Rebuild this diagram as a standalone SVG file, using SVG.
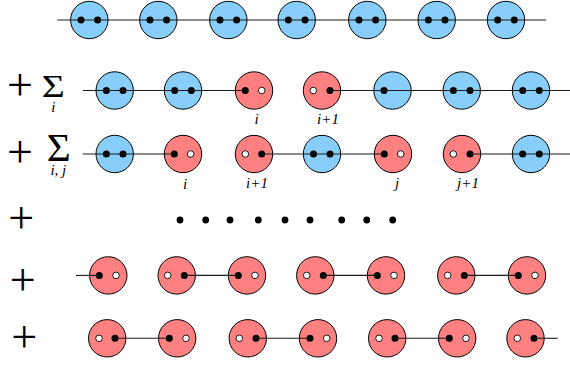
<svg xmlns="http://www.w3.org/2000/svg" width="570" height="369" viewBox="0 0 570 369">
<style>
.b{fill:#87cefa;stroke:#000;stroke-width:1}
.r{fill:#ff8080;stroke:#000;stroke-width:1}
.d{fill:#000}
.w{fill:#fff;stroke:#000;stroke-width:0.9}
.c line{stroke:#1a1a1a;stroke-width:1.1}
text{font-family:'Liberation Serif','Times New Roman','DejaVu Serif',serif;fill:#000}
.lb{font-style:italic;font-size:15px}
.pl{font-size:46px}
</style>
<rect width="570" height="369" fill="#fff"/>
<g id="ops">
<text class="pl" x="20" y="100" text-anchor="middle">+</text>
<text x="41.7" y="96.5" font-size="32" textLength="23" lengthAdjust="spacingAndGlyphs">Σ</text>
<text class="lb" x="53.3" y="112" text-anchor="middle">i</text>
<text class="pl" x="20" y="167" text-anchor="middle">+</text>
<text x="46.7" y="161" font-size="39" textLength="24" lengthAdjust="spacingAndGlyphs">Σ</text>
<text class="lb" x="58.3" y="175" text-anchor="middle">i, j</text>
<text class="pl" x="21.3" y="233" text-anchor="middle">+</text>
<text class="pl" x="22.7" y="295" text-anchor="middle">+</text>
<text class="pl" x="24.3" y="352" text-anchor="middle">+</text>
</g>
<g id="row1">
<g id="n1_1"><circle class="b" cx="89.3" cy="20" r="18.7"/><circle class="d" cx="81" cy="20" r="3.5"/><circle class="d" cx="97.6" cy="20" r="3.5"/></g>
<g id="n1_2"><circle class="b" cx="158.3" cy="20" r="18.7"/><circle class="d" cx="150" cy="20" r="3.5"/><circle class="d" cx="166.6" cy="20" r="3.5"/></g>
<g id="n1_3"><circle class="b" cx="228.3" cy="20" r="18.7"/><circle class="d" cx="220" cy="20" r="3.5"/><circle class="d" cx="236.6" cy="20" r="3.5"/></g>
<g id="n1_4"><circle class="b" cx="296.7" cy="20" r="18.7"/><circle class="d" cx="288.4" cy="20" r="3.5"/><circle class="d" cx="305" cy="20" r="3.5"/></g>
<g id="n1_5"><circle class="b" cx="367.3" cy="20" r="18.7"/><circle class="d" cx="359" cy="20" r="3.5"/><circle class="d" cx="375.6" cy="20" r="3.5"/></g>
<g id="n1_6"><circle class="b" cx="436.7" cy="20" r="18.7"/><circle class="d" cx="428.4" cy="20" r="3.5"/><circle class="d" cx="445" cy="20" r="3.5"/></g>
<g id="n1_7"><circle class="b" cx="506" cy="20" r="18.7"/><circle class="d" cx="497.7" cy="20" r="3.5"/><circle class="d" cx="514.3" cy="20" r="3.5"/></g>
</g>
<g id="row2">
<g id="n2_1"><circle class="b" cx="114.7" cy="90.5" r="18.7"/><circle class="d" cx="106.4" cy="90.5" r="3.5"/><circle class="d" cx="123" cy="90.5" r="3.5"/></g>
<g id="n2_2"><circle class="b" cx="183" cy="90.5" r="18.7"/><circle class="d" cx="174.7" cy="90.5" r="3.5"/><circle class="d" cx="191.3" cy="90.5" r="3.5"/></g>
<g id="n2_3"><circle class="r" cx="254" cy="90.5" r="18.7"/><circle class="d" cx="245.3" cy="90.5" r="3.5"/><circle class="w" cx="261.7" cy="90.5" r="3.3"/></g>
<g id="n2_4"><circle class="r" cx="322" cy="90.5" r="18.7"/><circle class="w" cx="313.3" cy="90.5" r="3.3"/><circle class="d" cx="330" cy="90.5" r="3.5"/></g>
<g id="n2_5"><circle class="b" cx="392.5" cy="90.5" r="18.7"/><circle class="d" cx="384" cy="90.5" r="3.5"/></g>
<g id="n2_6"><circle class="b" cx="461.7" cy="90.5" r="18.7"/><circle class="d" cx="453.4" cy="90.5" r="3.5"/><circle class="d" cx="470" cy="90.5" r="3.5"/></g>
<g id="n2_7"><circle class="b" cx="531" cy="90.5" r="18.7"/><circle class="d" cx="522.7" cy="90.5" r="3.5"/><circle class="d" cx="539.3" cy="90.5" r="3.5"/></g>
<text class="lb" x="256.7" y="124" text-anchor="middle">i</text>
<text class="lb" x="328" y="124" text-anchor="middle">i+1</text>
</g>
<g id="row3">
<g id="n3_1"><circle class="b" cx="114.7" cy="154" r="18.7"/><circle class="d" cx="106.4" cy="154" r="3.5"/><circle class="d" cx="123" cy="154" r="3.5"/></g>
<g id="n3_2"><circle class="r" cx="183" cy="154" r="18.7"/><circle class="d" cx="174.3" cy="154" r="3.5"/><circle class="w" cx="190.7" cy="154" r="3.3"/></g>
<g id="n3_3"><circle class="r" cx="254" cy="154" r="18.7"/><circle class="w" cx="245.3" cy="154" r="3.3"/><circle class="d" cx="261.7" cy="154" r="3.5"/></g>
<g id="n3_4"><circle class="b" cx="322" cy="154" r="18.7"/><circle class="d" cx="313.5" cy="154" r="3.5"/><circle class="d" cx="330" cy="154" r="3.5"/></g>
<g id="n3_5"><circle class="r" cx="393" cy="154" r="18.7"/><circle class="d" cx="384.3" cy="154" r="3.5"/><circle class="w" cx="400.7" cy="154" r="3.3"/></g>
<g id="n3_6"><circle class="r" cx="462" cy="154" r="18.7"/><circle class="w" cx="453.3" cy="154" r="3.3"/><circle class="d" cx="470" cy="154" r="3.5"/></g>
<g id="n3_7"><circle class="b" cx="531" cy="154" r="18.7"/><circle class="d" cx="522.7" cy="154" r="3.5"/><circle class="d" cx="539.3" cy="154" r="3.5"/></g>
<text class="lb" x="185" y="189" text-anchor="middle">i</text>
<text class="lb" x="257" y="188" text-anchor="middle">i+1</text>
<text class="lb" x="397" y="188" text-anchor="middle">j</text>
<text class="lb" x="468" y="188" text-anchor="middle">j+1</text>
</g>
<g id="row4">
<circle class="d" cx="180" cy="220" r="3.4"/><circle class="d" cx="205.7" cy="220" r="3.4"/><circle class="d" cx="230" cy="220" r="3.4"/>
<circle class="d" cx="258.3" cy="220" r="3.4"/><circle class="d" cx="285" cy="220" r="3.4"/><circle class="d" cx="310" cy="220" r="3.4"/>
<circle class="d" cx="341.7" cy="220" r="3.4"/><circle class="d" cx="366.7" cy="220" r="3.4"/><circle class="d" cx="392.7" cy="220" r="3.4"/>
</g>
<g id="row5">
<g id="n5_1"><circle class="r" cx="108.3" cy="275.4" r="18.7"/><circle class="d" cx="99.3" cy="275.4" r="3.5"/><circle class="w" cx="116" cy="275.4" r="3.3"/></g>
<g id="n5_2"><circle class="r" cx="176.7" cy="275.4" r="18.7"/><circle class="w" cx="167.7" cy="275.4" r="3.3"/><circle class="d" cx="184.3" cy="275.4" r="3.5"/></g>
<g id="n5_3"><circle class="r" cx="247" cy="275.4" r="18.7"/><circle class="d" cx="238.3" cy="275.4" r="3.5"/><circle class="w" cx="255" cy="275.4" r="3.3"/></g>
<g id="n5_4"><circle class="r" cx="315.3" cy="275.4" r="18.7"/><circle class="w" cx="306.7" cy="275.4" r="3.3"/><circle class="d" cx="323.3" cy="275.4" r="3.5"/></g>
<g id="n5_5"><circle class="r" cx="386" cy="275.4" r="18.7"/><circle class="d" cx="377.3" cy="275.4" r="3.5"/><circle class="w" cx="394" cy="275.4" r="3.3"/></g>
<g id="n5_6"><circle class="r" cx="456.3" cy="275.4" r="18.7"/><circle class="w" cx="447.7" cy="275.4" r="3.3"/><circle class="d" cx="464.3" cy="275.4" r="3.5"/></g>
<g id="n5_7"><circle class="r" cx="527" cy="275.4" r="18.7"/><circle class="d" cx="518.3" cy="275.4" r="3.5"/><circle class="w" cx="535" cy="275.4" r="3.3"/></g>
</g>
<g id="row6">
<g id="n6_1"><circle class="r" cx="107.2" cy="338.3" r="18.7"/><circle class="w" cx="99" cy="338.3" r="3.3"/><circle class="d" cx="115" cy="338.3" r="3.5"/></g>
<g id="n6_2"><circle class="r" cx="177.2" cy="338.3" r="18.7"/><circle class="d" cx="169.3" cy="338.3" r="3.5"/><circle class="w" cx="186" cy="338.3" r="3.3"/></g>
<g id="n6_3"><circle class="r" cx="247.8" cy="338.3" r="18.7"/><circle class="w" cx="239.3" cy="338.3" r="3.3"/><circle class="d" cx="256" cy="338.3" r="3.5"/></g>
<g id="n6_4"><circle class="r" cx="318" cy="338.3" r="18.7"/><circle class="d" cx="310" cy="338.3" r="3.5"/><circle class="w" cx="326.7" cy="338.3" r="3.3"/></g>
<g id="n6_5"><circle class="r" cx="387.2" cy="338.3" r="18.7"/><circle class="w" cx="379" cy="338.3" r="3.3"/><circle class="d" cx="395" cy="338.3" r="3.5"/></g>
<g id="n6_6"><circle class="r" cx="457.2" cy="338.3" r="18.7"/><circle class="d" cx="449.3" cy="338.3" r="3.5"/><circle class="w" cx="466" cy="338.3" r="3.3"/></g>
<g id="n6_7"><circle class="r" cx="525.5" cy="338.3" r="18.7"/><circle class="w" cx="517.3" cy="338.3" r="3.3"/><circle class="d" cx="534" cy="338.3" r="3.5"/></g>
</g>
<g id="connectors" class="c">
<line x1="57.3" y1="20" x2="546" y2="20"/>
<line x1="82.7" y1="90.5" x2="245.3" y2="90.5"/>
<line x1="330" y1="90.5" x2="570" y2="90.5"/>
<line x1="82.7" y1="154" x2="174.3" y2="154"/>
<line x1="261.7" y1="154" x2="384.3" y2="154"/>
<line x1="470" y1="154" x2="570" y2="154"/>
<line x1="76" y1="275.4" x2="99.3" y2="275.4"/>
<line x1="184.3" y1="275.4" x2="238.3" y2="275.4"/>
<line x1="323.3" y1="275.4" x2="377.3" y2="275.4"/>
<line x1="464.3" y1="275.4" x2="518.3" y2="275.4"/>
<line x1="115" y1="338.3" x2="169.3" y2="338.3"/>
<line x1="256" y1="338.3" x2="310" y2="338.3"/>
<line x1="395" y1="338.3" x2="449.3" y2="338.3"/>
<line x1="534" y1="338.3" x2="557.7" y2="338.3"/>
</g>
</svg>
